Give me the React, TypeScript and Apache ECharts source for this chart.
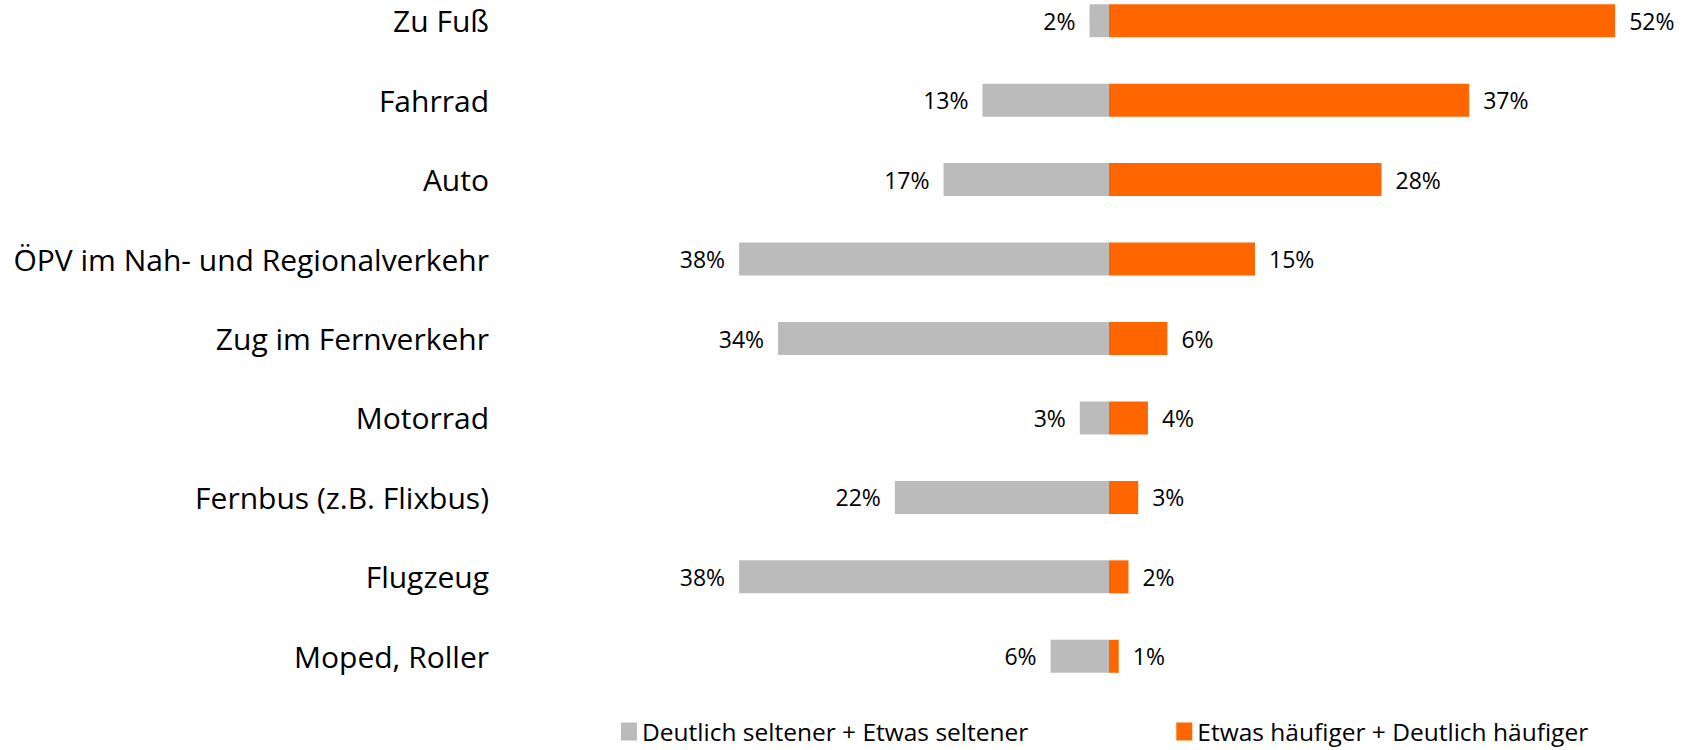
import React, { useEffect, useRef } from "react";
import * as echarts from "echarts";

const categories = [
  "Zu Fuß",
  "Fahrrad",
  "Auto",
  "ÖPV im Nah- und Regionalverkehr",
  "Zug im Fernverkehr",
  "Motorrad",
  "Fernbus (z.B. Flixbus)",
  "Flugzeug",
  "Moped, Roller",
];
const seltener = [2, 13, 17, 38, 34, 3, 22, 38, 6];
const haeufiger = [52, 37, 28, 15, 6, 4, 3, 2, 1];
const seriesNames = ["Deutlich seltener + Etwas seltener", "Etwas häufiger + Deutlich häufiger"];

const FONT = "'Open Sans', sans-serif";

export default function App() {
  const ref = useRef<HTMLDivElement>(null);
  useEffect(() => {
    if (!ref.current) return;
    const chart = echarts.init(ref.current, undefined, { renderer: "svg" });
    chart.setOption({
      animation: false,
      textStyle: { fontFamily: FONT },
      legend: {
        data: seriesNames,
        left: 616,
        top: 714,
        icon: "rect",
        itemWidth: 16,
        itemHeight: 18,
        itemGap: 148,
        textStyle: { fontSize: 24.5, lineHeight: 24, color: "#000", fontFamily: FONT },
      },
      grid: {
        left: 525,
        right: 7,
        top: -19,
        bottom: 54,
        containLabel: false,
        outerBoundsMode: "none",
      },
      xAxis: {
        type: "value",
        min: -60,
        max: 60,
        show: false,
        splitLine: { show: false },
      },
      yAxis: {
        type: "category",
        data: categories,
        inverse: true,
        axisLine: { show: false },
        axisTick: { show: false },
        axisLabel: { fontSize: 30, color: "#000", margin: 36, fontFamily: FONT },
      },
      series: [
        {
          name: seriesNames[0],
          type: "bar",
          stack: "total",
          barWidth: 33,
          itemStyle: { color: "#BBBBBB" },
          data: seltener.map((v) => -v),
          label: {
            show: true,
            position: "left",
            distance: 14,
            fontSize: 23,
            color: "#000",
            fontFamily: FONT,
            formatter: (p: any) => Math.abs(p.value) + "%",
          },
        },
        {
          name: seriesNames[1],
          type: "bar",
          stack: "total",
          barWidth: 33,
          itemStyle: { color: "#FF6600" },
          data: haeufiger,
          label: {
            show: true,
            position: "right",
            distance: 14,
            fontSize: 23,
            color: "#000",
            fontFamily: FONT,
            formatter: (p: any) => p.value + "%",
          },
        },
      ],
    });
    return () => chart.dispose();
  }, []);
  return (
    <div
      ref={ref}
      style={{ position: "absolute", left: 0, top: 0, width: 1700, height: 750 }}
    />
  );
}
